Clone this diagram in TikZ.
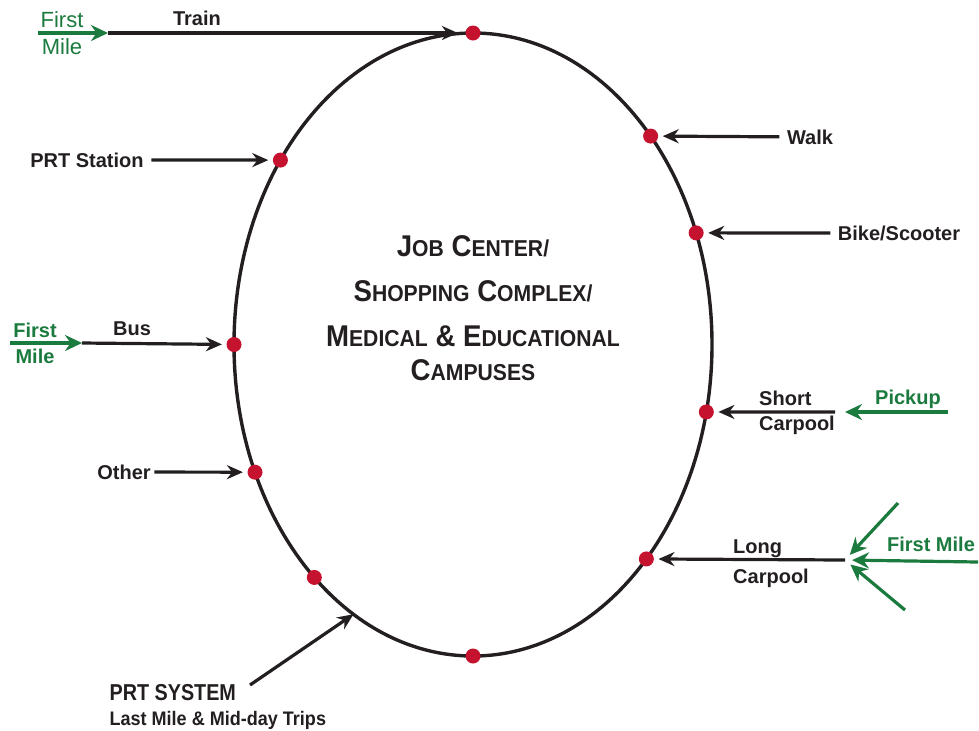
\documentclass[tikz,border=0pt]{standalone}
\usepackage{fontspec}
\setmainfont{Liberation Sans}
\newfontfamily\condsans[FakeStretch=0.92]{Liberation Sans}
\newfontfamily\prtsans[FakeStretch=0.86]{Liberation Sans}
\usetikzlibrary{calc}
\usetikzlibrary{positioning}
\usetikzlibrary{arrows.meta}
\definecolor{ringBlack}{HTML}{231F20}
\definecolor{mileGreen}{HTML}{1B7A3E}
\definecolor{stopRed}{HTML}{C4122F}
\tikzset{every picture/.style={line width=1.6pt, >={Stealth[length=8pt,width=7pt,inset=2.6pt]}}}
\tikzset{stopdot/.style={circle, fill=stopRed, inner sep=0pt, minimum size=7.5pt}}
\tikzset{modelabel/.style={text=ringBlack, font=\bfseries\fontsize{10}{12}\selectfont, inner sep=3pt}}
\tikzset{feeder/.style={draw=mileGreen, ->, >={Stealth[length=8.5pt,width=8pt,inset=2.8pt]}}}
\tikzset{mile/.style={text=mileGreen, font=\bfseries\fontsize{10}{13}\selectfont, align=center}}
% large first letter, smaller capitals after it
\newcommand{\bigsc}[2]{{\fontsize{15}{22.5}\selectfont #1}{\fontsize{11.5}{22.5}\selectfont #2}}

\begin{document}
\begin{tikzpicture}[x=0.5pt, y=-0.5pt]
    \useasboundingbox (0,0) rectangle (979,730);
    \coordinate (c) at (473,344.5);
    \draw[ringBlack, line width=1.7pt] (c) ellipse [x radius=239, y radius=311.5];
    \foreach \n/\t in {top/-90, walk/-42, bike/-21, short/12.5, long/43.5, bottom/90, prt/131.6, other/155.8, bus/180, station/216.3}
        \node[stopdot] (s-\n) at ($(c)+(\t:239 and 311.5)$) {};

    \node[text=ringBlack, font=\condsans\bfseries\fontsize{15}{22.5}\selectfont, align=center] (hub) at (473,308)
        {\bigsc{J}{OB} \bigsc{C}{ENTER/}\\ \bigsc{S}{HOPPING} \bigsc{C}{OMPLEX/}\\
         \bigsc{M}{EDICAL} \& \bigsc{E}{DUCATIONAL}\\[-5.5pt] \bigsc{C}{AMPUSES}};

    % train, fed by first mile
    \coordinate (train0) at (38,33);
    \coordinate (train1) at (108,33);
    \node[text=mileGreen, font=\fontsize{11}{13.5}\selectfont, align=center] (trainmile) at (62,33) {First\\Mile};
    \draw[feeder] (train0) -- (train1);
    \draw[->, ringBlack, shorten >=3pt] (train1) -- node[modelabel, above, pos=0.25] {Train} (s-top);

    % left side
    \node[modelabel] (station) at (87,160) {PRT Station};
    \draw[->, ringBlack, shorten >=1.5pt] (station) -- (s-station);
    \coordinate (bus0) at (10,343);
    \coordinate (bus1) at (82,343);
    \node[mile] (busmile) at (35,343) {First\\Mile};
    \draw[feeder] (bus0) -- (bus1);
    \draw[->, ringBlack, shorten >=1.5pt] (bus1) -- node[modelabel, above, pos=0.35] {Bus} (s-bus);
    \node[modelabel, inner sep=1pt] (other) at (124,472) {Other};
    \draw[->, ringBlack, shorten >=1.5pt] (other) -- (s-other);

    % right side
    \node[modelabel] (walk) at (810,137) {Walk};
    \draw[->, ringBlack, shorten >=1.5pt] (walk) -- (s-walk);
    \node[modelabel] (bike) at (899,233) {Bike/Scooter};
    \draw[->, ringBlack, shorten >=1.5pt] (bike) -- (s-bike);

    \coordinate (pick0) at (948,412);
    \coordinate (short1) at (835,412);
    \node[modelabel, align=left, font=\bfseries\fontsize{10}{12.5}\selectfont] (shortlbl) at (797,413) {Short\\Carpool};
    \node[mile] (pickup) at (908,399) {Pickup};
    \draw[feeder, shorten >=5pt] (pick0) -- (short1);
    \draw[->, ringBlack, shorten >=1.5pt] (short1) -- (s-short);

    \coordinate (long1) at (845,560);
    \coordinate (fm0) at (978,562);
    \coordinate (fm1) at (898,503);
    \coordinate (fm2) at (905,610);
    \node[modelabel, align=left, font=\bfseries\fontsize{10}{15}\selectfont] (longlbl) at (771,564) {Long\\Carpool};
    \node[mile] (longmile) at (931,544) {First Mile};
    \foreach \f in {fm0,fm1,fm2}
        \draw[feeder, shorten >=3.5pt] (\f) -- (long1);
    \draw[->, ringBlack, shorten >=1.5pt] (long1) -- (s-long);

    % bottom
    \node[text=ringBlack, font=\prtsans\bfseries\fontsize{11.5}{13}\selectfont, anchor=west, inner sep=0pt] (prtsys) at (108,693) {PRT SYSTEM};
    \node[text=ringBlack, font=\condsans\bfseries\fontsize{9.8}{12}\selectfont, anchor=west, inner sep=0pt] (prttrips) at (108,720) {Last Mile \& Mid-day Trips};
    \coordinate (prt0) at (250,685);
    \coordinate (prt1) at ($(c)+(120:239 and 311.5)$);
    \draw[->, ringBlack] (prt0) -- (prt1);
\end{tikzpicture}
\end{document}
